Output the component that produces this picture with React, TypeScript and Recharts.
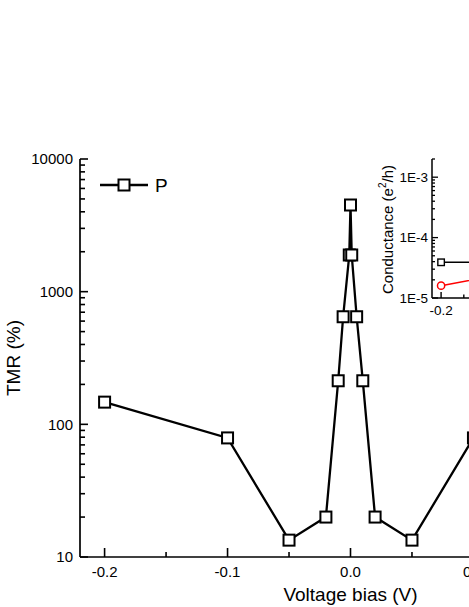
import React from 'react';
import { LineChart, Line, XAxis, YAxis, Legend } from 'recharts';

const FONT = '"Liberation Sans", Arial, Helvetica, sans-serif';

// Main panel: TMR vs voltage bias
const biasV = [-0.2, -0.1, -0.05, -0.02, -0.01, -0.006, -0.001, 0, 0.001, 0.005, 0.01, 0.02, 0.05, 0.1, 0.2];
const tmrPct = [147, 79, 13.4, 20, 213, 647, 1890, 4500, 1890, 647, 213, 20, 13.4, 79, 147];

const xMajorTicks = [-0.2, -0.1, 0, 0.1, 0.2];
const xMinorTicks = [-0.15, -0.05, 0.05, 0.15];
const yMajorTicks = [10, 100, 1000, 10000];
const yMinorTicks = [20, 30, 40, 50, 60, 70, 80, 90, 200, 300, 400, 500, 600, 700, 800, 900, 2000, 3000, 4000, 5000, 6000, 7000, 8000, 9000];

// Inset: conductance vs bias
const insetBias = [-0.2, -0.1, -0.05, -0.02, 0, 0.02, 0.05, 0.1, 0.2];
const gP = [3.9e-5, 3.9e-5, 3.9e-5, 4.5e-5, 1.0e-3, 4.5e-5, 3.9e-5, 3.9e-5, 3.9e-5];
const gAP = [1.6e-5, 2.2e-5, 3.4e-5, 3.8e-5, 2.2e-5, 3.8e-5, 3.4e-5, 2.2e-5, 1.6e-5];

const insetXMajor = [-0.2, -0.1, 0, 0.1, 0.2];
const insetXMinor = [-0.15, -0.05, 0.05, 0.15];
const insetYMajor = [1e-5, 1e-4, 1e-3];
const insetYMinor = [2e-5, 3e-5, 4e-5, 5e-5, 6e-5, 7e-5, 8e-5, 9e-5, 2e-4, 3e-4, 4e-4, 5e-4, 6e-4, 7e-4, 8e-4, 9e-4, 2e-3];

const mainData = biasV.map((v, i) => ({ v, tmr: tmrPct[i] }));
const insetData = insetBias.map((v, i) => ({ v, gp: gP[i], gap: gAP[i] }));

const isIn = (list: number[], val: number) =>
  list.some((m) => Math.abs(m - val) <= Math.abs(m) * 1e-6 + 1e-9);

const SquareDot = (size: number, sw: number) => (props: any) => {
  const { cx, cy, index } = props;
  if (cx == null || cy == null) return <g key={index} />;
  return (
    <rect key={index} x={cx - size / 2} y={cy - size / 2} width={size} height={size}
      fill="#fff" stroke="#000" strokeWidth={sw} />
  );
};

const CircleDot = (props: any) => {
  const { cx, cy, index } = props;
  if (cx == null || cy == null) return <g key={index} />;
  return <circle key={index} cx={cx} cy={cy} r={3.6} fill="#fff" stroke="#ff0000" strokeWidth={1.5} />;
};

// Main axis ticks (inward)
const MainBottomTick = (props: any) => {
  const { x, y, payload } = props;
  const major = isIn(xMajorTicks, payload.value);
  return (
    <g>
      <line x1={x} y1={y} x2={x} y2={y - (major ? 9 : 5)} stroke="#000" strokeWidth={1.6} />
      {major && (
        <text x={x} y={y + 20} textAnchor="middle" fontSize={15} fontFamily={FONT} fill="#000">
          {Number(payload.value).toFixed(1)}
        </text>
      )}
    </g>
  );
};

const MainTopTick = (props: any) => {
  const { x, y, payload } = props;
  const major = isIn(xMajorTicks, payload.value);
  return <line x1={x} y1={y} x2={x} y2={y + (major ? 9 : 5)} stroke="#000" strokeWidth={1.6} />;
};

const MainLeftTick = (props: any) => {
  const { x, y, payload } = props;
  const major = isIn(yMajorTicks, payload.value);
  return (
    <g>
      <line x1={x} y1={y} x2={x + (major ? 8 : 5)} y2={y} stroke="#000" strokeWidth={1.6} />
      {major && (
        <text x={x - 7} y={y + 5.3} textAnchor="end" fontSize={15} fontFamily={FONT} fill="#000">
          {String(payload.value)}
        </text>
      )}
    </g>
  );
};

const InsetBottomTick = (props: any) => {
  const { x, y, payload } = props;
  const major = isIn(insetXMajor, payload.value);
  return (
    <g>
      <line x1={x} y1={y} x2={x} y2={y - (major ? 6 : 3.5)} stroke="#000" strokeWidth={1.4} />
      {major && (
        <text x={x} y={y + 17} textAnchor="middle" fontSize={13.5} fontFamily={FONT} fill="#000">
          {Number(payload.value).toFixed(1)}
        </text>
      )}
    </g>
  );
};

const InsetLeftTick = (props: any) => {
  const { x, y, payload } = props;
  const major = isIn(insetYMajor, payload.value);
  return (
    <g>
      <line x1={x} y1={y} x2={x + (major ? 6 : 3)} y2={y} stroke="#000" strokeWidth={1.3} />
      {major && (
        <text x={x - 4} y={y + 4.8} textAnchor="end" fontSize={13.5} fontFamily={FONT} fill="#000">
          {'1E' + Math.round(Math.log10(payload.value))}
        </text>
      )}
    </g>
  );
};

const LegendContent = () => (
  <svg width={90} height={26} style={{ display: 'block' }}>
    <line x1={0} y1={12} x2={48} y2={12} stroke="#000" strokeWidth={2.3} />
    <rect x={24 - 5.5} y={12 - 5.5} width={11} height={11} fill="#fff" stroke="#000" strokeWidth={2} />
    <text x={55} y={19} fontSize={19} fontFamily={FONT} fill="#000">P</text>
  </svg>
);

export default function App() {
  return (
    <div style={{ position: 'fixed', left: 0, top: 0, width: 469, height: 607, overflow: 'hidden', background: '#fff' }}>
      <div style={{ position: 'absolute', left: 0, top: 0 }}>
        <LineChart width={640} height={607} data={mainData} margin={{ top: 159, right: 19, bottom: 0, left: 0 }}>
          <XAxis
            dataKey="v" type="number" domain={[-0.22, 0.22]} allowDataOverflow
            ticks={[...xMajorTicks, ...xMinorTicks]} interval={0}
            tickSize={0} tickMargin={0} tickLine={false} tick={MainBottomTick}
            axisLine={{ stroke: '#000', strokeWidth: 1.7 }} height={50}
            label={{
              value: 'Voltage bias (V)',
              content: (p: any) => {
                const vb = p.viewBox;
                return (
                  <text x={vb.x + vb.width / 2} y={594} textAnchor="middle" dominantBaseline="central"
                    fontSize={19} fontFamily={FONT} fill="#000">Voltage bias (V)</text>
                );
              },
            }}
          />
          <XAxis
            xAxisId="top" orientation="top" dataKey="v" type="number" domain={[-0.22, 0.22]} allowDataOverflow
            ticks={[...xMajorTicks, ...xMinorTicks]} interval={0}
            tickSize={0} tickMargin={0} tickLine={false} tick={MainTopTick}
            axisLine={{ stroke: '#000', strokeWidth: 1.7 }} height={0}
          />
          <YAxis
            type="number" scale="log" domain={[10, 10000]} allowDataOverflow
            ticks={[...yMajorTicks, ...yMinorTicks]} interval={0}
            tickSize={0} tickMargin={0} tickLine={false} tick={MainLeftTick}
            axisLine={{ stroke: '#000', strokeWidth: 1.7 }} width={80}
            label={{
              value: 'TMR (%)',
              content: (p: any) => {
                const vb = p.viewBox;
                const cx = vb.x + 13.5;
                const cy = vb.y + vb.height / 2;
                return (
                  <text x={cx} y={cy} transform={`rotate(-90 ${cx} ${cy})`} textAnchor="middle"
                    dominantBaseline="central" fontSize={19} fontFamily={FONT} fill="#000">TMR (%)</text>
                );
              },
            }}
          />
          <Legend
            layout="vertical" align="center" verticalAlign="middle"
            wrapperStyle={{ left: 100, top: 173, width: 90, height: 26, margin: 0, padding: 0 }}
            content={LegendContent}
          />
          <Line
            dataKey="tmr" name="P" stroke="#000" strokeWidth={2.3} isAnimationActive={false}
            dot={SquareDot(11, 2)} activeDot={false} legendType="square"
          />
        </LineChart>
      </div>

      <div style={{ position: 'absolute', left: 360, top: 140 }}>
        <LineChart width={272} height={188} data={insetData} margin={{ top: 19, right: 0, bottom: 0, left: 0 }}
          style={{ background: 'transparent' }}>
          <XAxis
            dataKey="v" type="number" domain={[-0.22, 0.22]} allowDataOverflow
            ticks={[...insetXMajor, ...insetXMinor]} interval={0}
            tickSize={0} tickMargin={0} tickLine={false} tick={InsetBottomTick}
            axisLine={{ stroke: '#000', strokeWidth: 1.5 }} height={30}
          />
          <YAxis
            type="number" scale="log" domain={[1e-5, 2e-3]} allowDataOverflow
            ticks={[...insetYMajor, ...insetYMinor]} interval={0}
            tickSize={0} tickMargin={0} tickLine={false} tick={InsetLeftTick}
            axisLine={{ stroke: '#000', strokeWidth: 1.5 }} width={72}
            label={{
              value: 'Conductance',
              content: (p: any) => {
                const vb = p.viewBox;
                const cx = vb.x + 27;
                const cy = vb.y + vb.height / 2 + 1;
                return (
                  <text x={cx} y={cy} transform={`rotate(-90 ${cx} ${cy})`} textAnchor="middle"
                    dominantBaseline="central" fontSize={15} fontFamily={FONT} fill="#000">
                    <tspan>Conductance (e</tspan>
                    <tspan dy={-5} fontSize={10}>2</tspan>
                    <tspan dy={5}>/h)</tspan>
                  </text>
                );
              },
            }}
          />
          <Line dataKey="gp" stroke="#000" strokeWidth={1.5} isAnimationActive={false}
            dot={SquareDot(6.5, 1.4)} activeDot={false} />
          <Line dataKey="gap" stroke="#ff0000" strokeWidth={1.5} isAnimationActive={false}
            dot={CircleDot} activeDot={false} />
        </LineChart>
      </div>
    </div>
  );
}
